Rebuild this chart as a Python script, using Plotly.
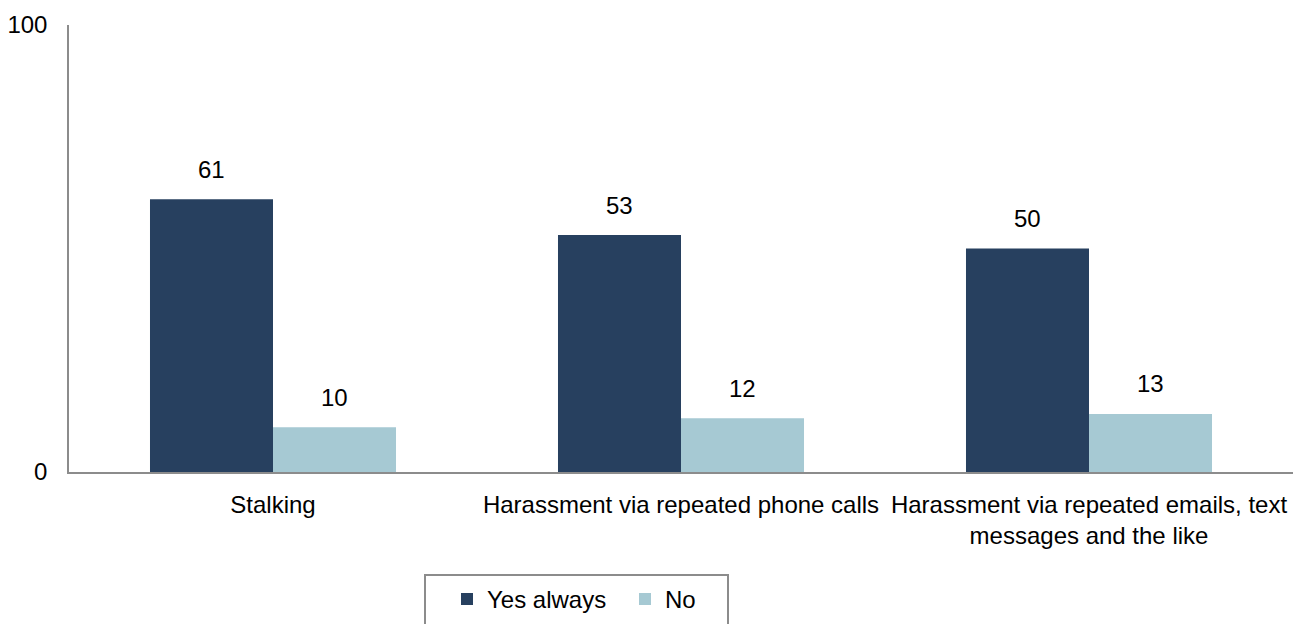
import plotly.graph_objects as go

categories = [
    "Stalking",
    "Harassment via repeated phone calls",
    "Harassment via repeated emails, text<br>messages and the like",
]
yes_always = [61, 53, 50]
no_vals = [10, 12, 13]
series = [("Yes always", yes_always, "#27405f"), ("No", no_vals, "#a6c9d3")]

font_family = "Liberation Sans, Arial, sans-serif"
fs = 24

fig = go.Figure()
for name, vals, color in series:
    fig.add_trace(go.Bar(
        x=categories, y=vals, name=name, marker=dict(color=color, line=dict(width=0)),
    ))

# value labels above each bar
bar_px = 123
for i, (name, vals, _) in enumerate(series):
    shift = -bar_px / 2 if i == 0 else bar_px / 2
    for cat, v in zip(categories, vals):
        fig.add_annotation(
            x=cat, y=v, text=str(v), showarrow=False, xshift=shift, yshift=30,
            font=dict(size=fs, color="#000000", family=font_family),
        )

# frame around the legend (pixel positions converted to paper fractions)
plot_w, plot_h, left, top, base = 1224, 447, 69, 25, 472
fig.add_shape(
    type="rect", xref="paper", yref="paper",
    x0=(425 - left) / plot_w, x1=(728 - left) / plot_w,
    y0=(base - 627) / plot_h, y1=(base - 575) / plot_h,
    line=dict(color="#8c8c8c", width=2), fillcolor="rgba(0,0,0,0)", layer="above",
)

fig.update_layout(
    width=1303, height=624,
    margin=dict(l=left, r=10, t=top, b=152, autoexpand=False),
    paper_bgcolor="white", plot_bgcolor="white",
    barmode="group", bargap=0.397, bargroupgap=0,
    font=dict(family=font_family, size=fs, color="#000000"),
    showlegend=True,
    legend=dict(
        orientation="h", x=(447 - left) / plot_w, y=-0.2346,
        xanchor="left", yanchor="top",
        borderwidth=0, bgcolor="rgba(0,0,0,0)",
        font=dict(size=fs, family=font_family),
        itemwidth=30, entrywidth=133, entrywidthmode="pixels",
    ),
    xaxis=dict(
        showline=True, linecolor="#8c8c8c", linewidth=2, automargin=False,
        ticks="outside", ticklen=10, tickcolor="rgba(0,0,0,0)",
        showgrid=False, tickfont=dict(size=fs),
    ),
    yaxis=dict(
        range=[0, 100], tickvals=[0, 100], showline=True, linecolor="#8c8c8c",
        linewidth=1.5, showgrid=False, zeroline=False, automargin=False,
        ticks="outside", ticklen=15, tickcolor="rgba(0,0,0,0)", tickfont=dict(size=fs),
    ),
)

fig.write_html("out.html")
